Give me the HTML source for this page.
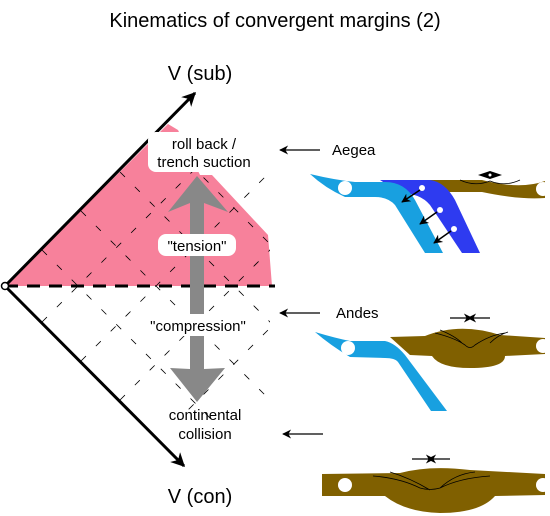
<!DOCTYPE html>
<html><head><meta charset="utf-8"><style>
body{margin:0;background:#fff}
svg{display:block;font-family:"Liberation Sans",sans-serif}
</style></head><body>
<svg width="550" height="516" viewBox="0 0 550 516">
<defs>
<marker id="ah" viewBox="0 0 10 10" refX="9" refY="5" markerUnits="userSpaceOnUse" markerWidth="18" markerHeight="14" orient="auto"><path d="M0,0 L10,5 L0,10 L3,5 Z" fill="#000"/></marker>
<marker id="sa" viewBox="0 0 10 10" refX="9" refY="5" markerUnits="userSpaceOnUse" markerWidth="11" markerHeight="9" orient="auto"><path d="M0,0 L10,5 L0,10 L3,5 Z" fill="#000"/></marker>
<clipPath id="wedge"><polygon points="5,286 160,131 270,131 270,420 140,420"/></clipPath>
</defs>
<text x="275" y="27" font-size="20" text-anchor="middle">Kinematics of convergent margins (2)</text>

<polygon fill="#f7819b" points="5,286 168,124 178,130 200,175 212,175 268,235 272,286"/>

<g clip-path="url(#wedge)" stroke="#000" stroke-width="0.8" stroke-dasharray="7,14" fill="none">
<line x1="42" y1="250" x2="270" y2="478"/><line x1="81" y1="211" x2="309" y2="439"/><line x1="120" y1="172" x2="348" y2="400"/><line x1="159" y1="133" x2="387" y2="361"/>
<line x1="42" y1="322" x2="270" y2="94"/><line x1="81" y1="361" x2="309" y2="133"/><line x1="120" y1="400" x2="348" y2="172"/><line x1="159" y1="439" x2="387" y2="211"/>
</g>

<line x1="5" y1="286" x2="275" y2="286" stroke="#000" stroke-width="3" stroke-dasharray="13,9"/>
<line x1="5" y1="286" x2="195" y2="93" stroke="#000" stroke-width="3" marker-end="url(#ah)"/>
<line x1="5" y1="286" x2="184" y2="466" stroke="#000" stroke-width="3" marker-end="url(#ah)"/>
<circle cx="5" cy="286" r="3.5" fill="#fff" stroke="#000" stroke-width="1.5"/>

<polygon fill="#888" points="197,176 228,212 204,203 204,369 225,368 197,402 170,368 190,369 190,203 168,212"/>

<rect x="148" y="132" width="114" height="40" rx="8" fill="#fff"/>
<text x="204" y="149" font-size="15" text-anchor="middle">roll back /</text>
<text x="204" y="167" font-size="15" text-anchor="middle">trench suction</text>
<rect x="158" y="234" width="78" height="22" rx="8" fill="#fff"/>
<text x="197" y="251" font-size="15" text-anchor="middle">"tension"</text>
<rect x="138" y="314" width="122" height="22" rx="6" fill="#fff"/>
<text x="198" y="331" font-size="15" text-anchor="middle">"compression"</text>
<text x="205" y="420" font-size="15" text-anchor="middle">continental</text>
<text x="205" y="439" font-size="15" text-anchor="middle">collision</text>
<text x="200" y="80" font-size="20" text-anchor="middle">V (sub)</text>
<text x="200" y="503" font-size="20" text-anchor="middle">V (con)</text>

<g stroke="#000" stroke-width="1.3" marker-end="url(#sa)">
<line x1="320" y1="150" x2="280" y2="150"/>
<line x1="320" y1="313" x2="280" y2="313"/>
<line x1="323" y1="434" x2="283" y2="434"/>
</g>
<text x="332" y="155" font-size="15">Aegea</text>
<text x="336" y="318" font-size="15">Andes</text>

<g>
<path d="M420,180 L482,180 Q520,190 545,181 L545,198 Q520,200 482,192 L440,192 Z" fill="#806000"/>
<path d="M380,180 L430,180 Q445,182 455,200 L480,253 L462,253 L430,205 Q420,193 400,193 Z" fill="#2e3bf0"/>
<path d="M310,174 Q335,180 355,182 L385,182 Q405,182 415,200 L443,253 L425,253 L395,205 Q388,197 375,197 L345,197 Q325,188 310,174 Z" fill="#18a0e0"/>
<circle cx="345" cy="188" r="7" fill="#fff"/><circle cx="543" cy="189" r="7" fill="#fff"/>
<circle cx="422" cy="188" r="3" fill="#fff"/><circle cx="440" cy="210" r="3" fill="#fff"/><circle cx="454" cy="229" r="3" fill="#fff"/>
<g stroke="#000" stroke-width="1.5" marker-end="url(#sa)"><line x1="420" y1="190" x2="402" y2="202"/><line x1="437" y1="212" x2="420" y2="224"/><line x1="451" y1="231" x2="434" y2="243"/></g>
<path d="M478,175 L490,171 L502,175 L490,179 Z" fill="#000"/><circle cx="490" cy="175" r="1.5" fill="#fff"/>
<path d="M460,180 Q475,187 490,181 Q505,187 520,180" stroke="#000" fill="none" stroke-width="0.8"/>
</g>

<g>
<path d="M390,337 L425,336 Q460,322 500,335 L545,338 L545,354 L505,356 Q505,368 470,368 Q440,368 432,356 L410,355 Z" fill="#806000"/>
<path d="M315,332 Q335,338 350,341 L385,341 Q395,343 405,355 L447,411 L431,411 L398,362 Q395,358 385,358 L350,357 Q330,345 315,332 Z" fill="#18a0e0"/>
<circle cx="348" cy="348" r="7" fill="#fff"/><circle cx="543" cy="346" r="7" fill="#fff"/>
<path d="M435,333 Q455,338 465,345 Q470,350 475,345 Q490,335 505,333 M440,330 Q455,336 462,343 M490,343 Q498,335 508,332" stroke="#000" fill="none" stroke-width="0.8"/>
<g stroke="#000" stroke-width="1.3" marker-end="url(#sa)"><line x1="450" y1="318" x2="472" y2="318"/><line x1="490" y1="318" x2="468" y2="318"/></g>
</g>

<g>
<path d="M322,474 L400,473 Q430,465 470,470 L545,474 L545,495 L495,496 Q480,513 440,513 Q405,512 385,496 L322,496 Z" fill="#806000"/>
<circle cx="345" cy="485" r="7" fill="#fff"/><circle cx="543" cy="485" r="7" fill="#fff"/>
<path d="M373,476 Q400,478 420,488 Q430,491 440,488 Q460,478 490,476 M390,472 Q410,478 430,490 M440,488 Q455,474 475,472" stroke="#000" fill="none" stroke-width="0.8"/>
<g stroke="#000" stroke-width="1.3" marker-end="url(#sa)"><line x1="412" y1="459" x2="434" y2="459"/><line x1="450" y1="459" x2="428" y2="459"/></g>
</g>
</svg>
</body></html>
